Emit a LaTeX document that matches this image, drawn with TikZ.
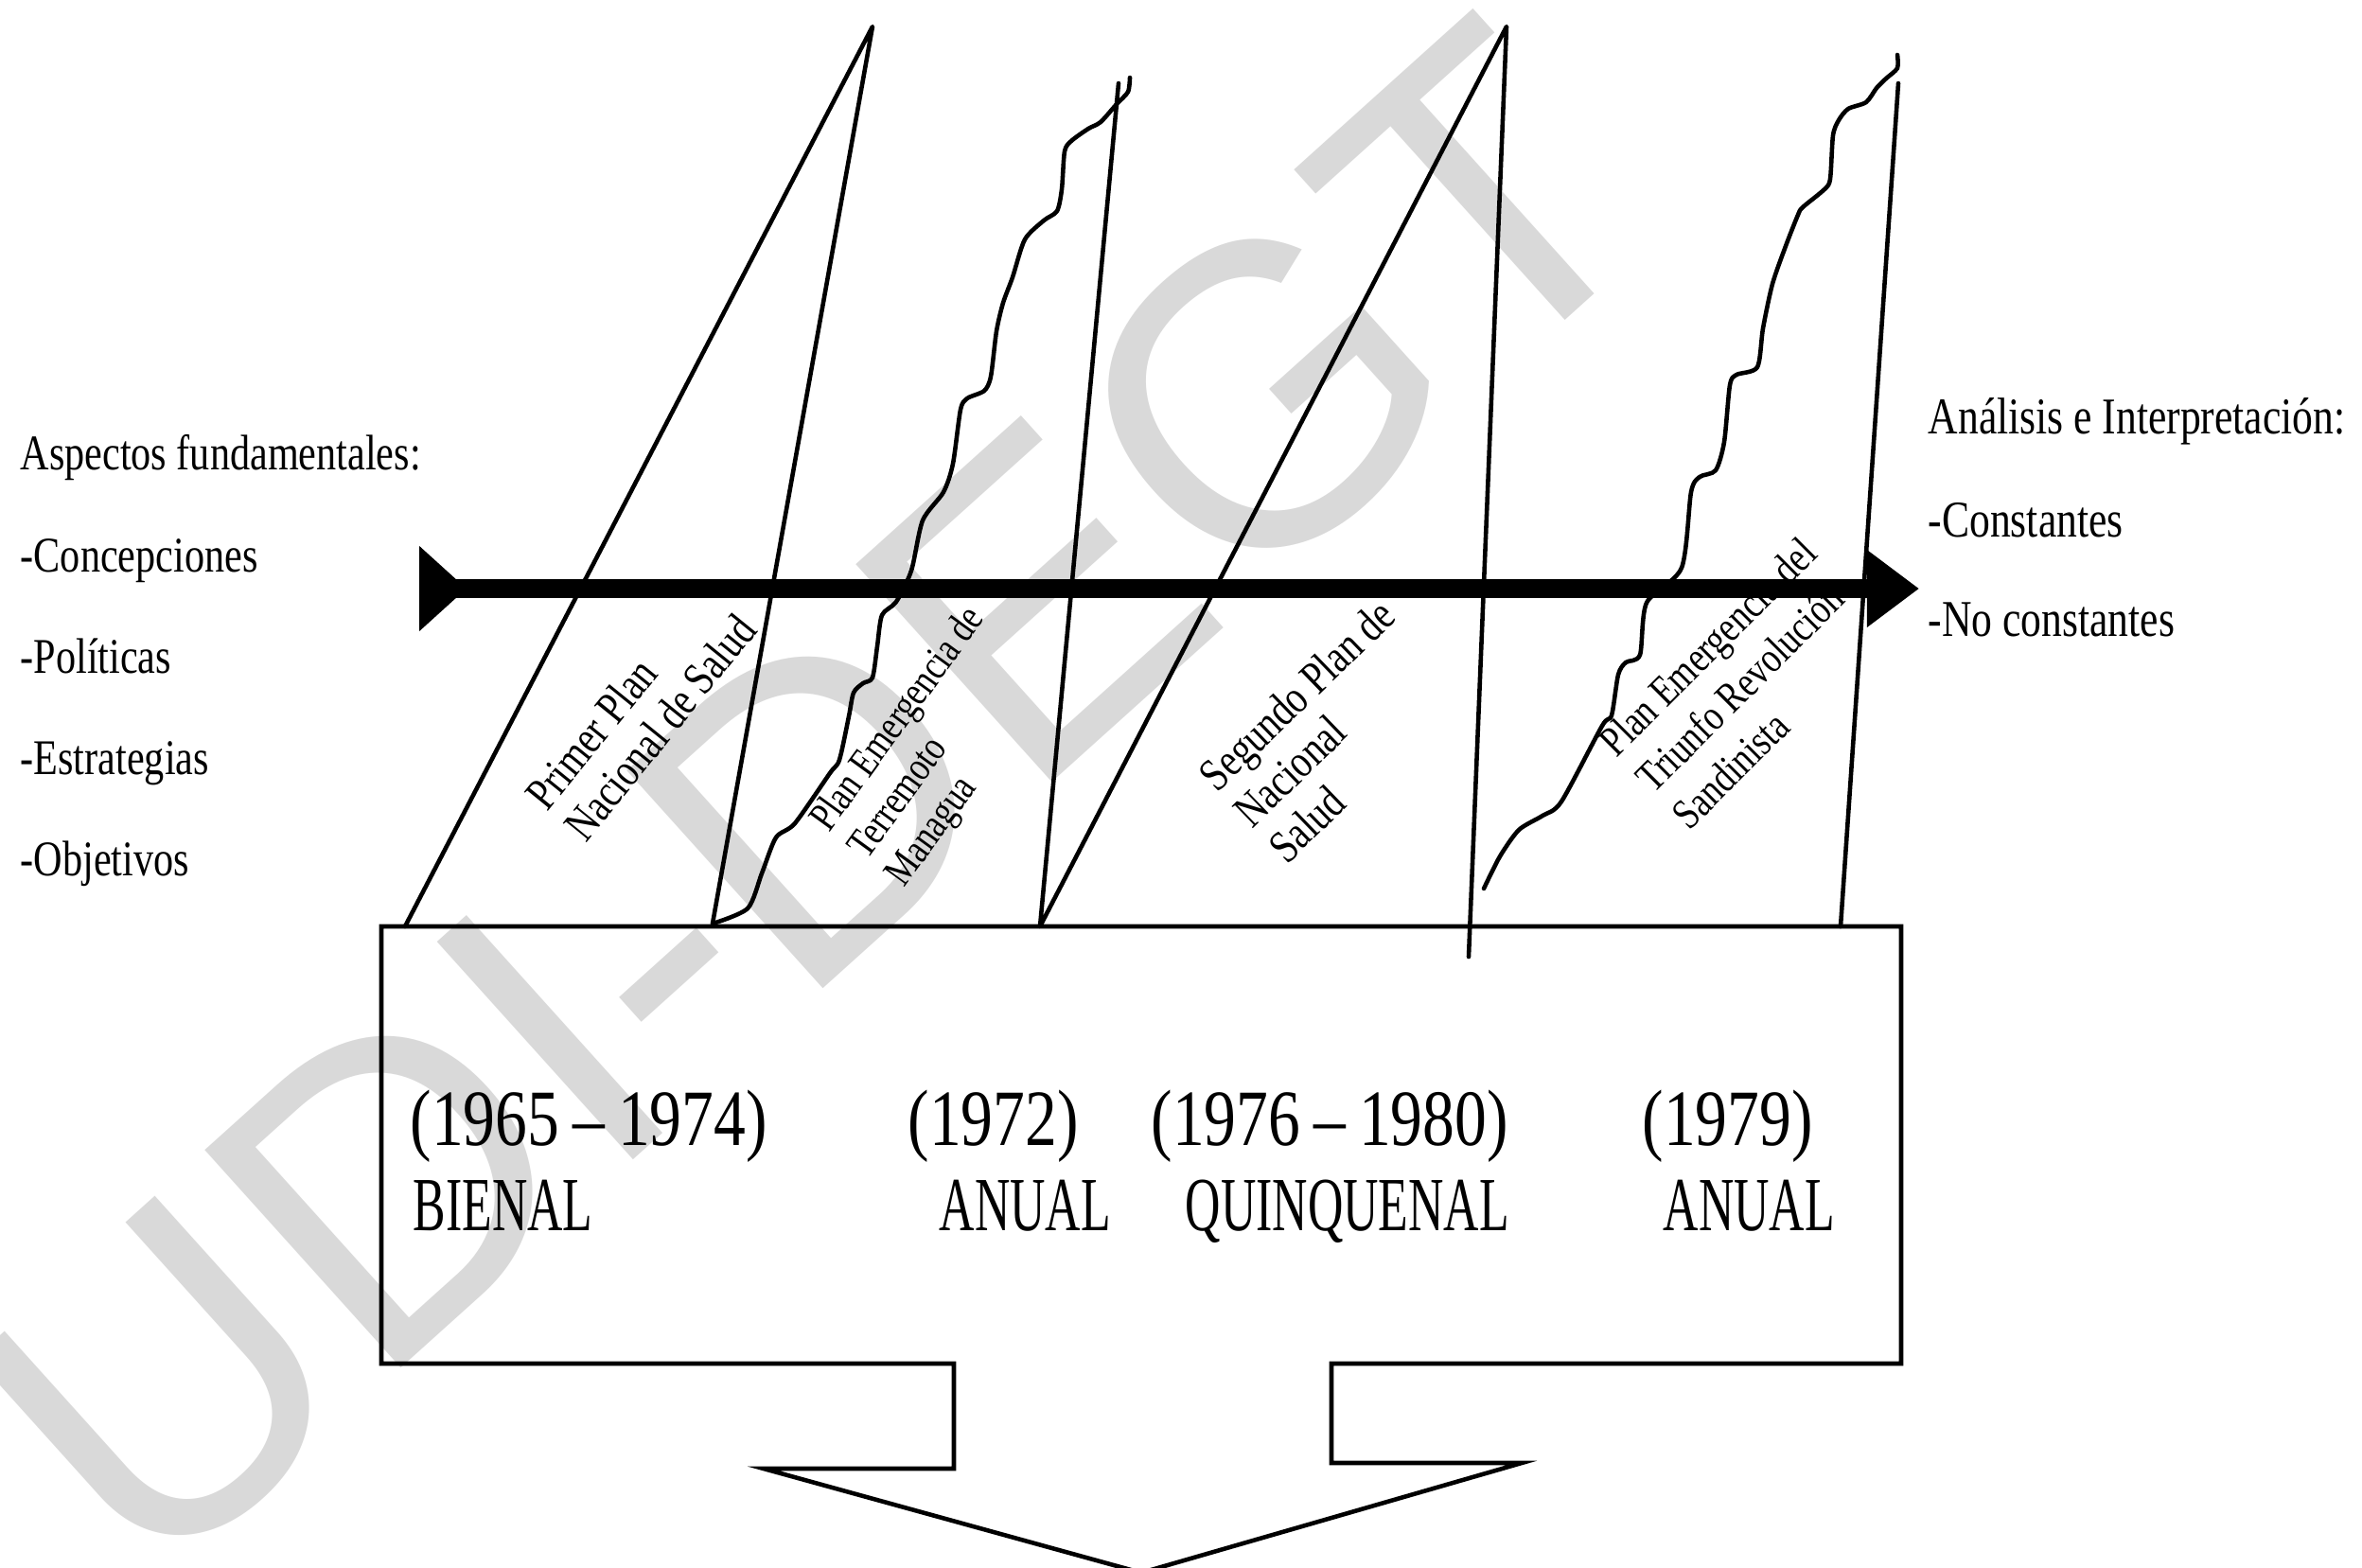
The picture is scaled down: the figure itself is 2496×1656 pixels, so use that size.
\documentclass[tikz,border=0pt]{standalone}
\usepackage{fontspec}
\setmainfont{Liberation Serif}[FakeStretch=0.8]
\newfontfamily\capfont{Liberation Serif}[FakeStretch=0.64]
\newfontfamily\markfont{Liberation Sans}
\usetikzlibrary{arrows.meta}

\begin{document}
\begin{tikzpicture}[
    x=0.01cm, y=-0.01cm,
    heading/.style={anchor=base west, inner sep=0pt, font=\fontsize{15pt}{18pt}\selectfont},
    plan/.style={align=left, inner sep=0pt, font=\fontsize{14pt}{15pt}\selectfont},
    years/.style={anchor=base west, inner sep=0pt, font=\fontsize{24pt}{28pt}\selectfont},
    period/.style={anchor=base west, inner sep=0pt, font=\capfont\fontsize{23pt}{26pt}\selectfont},
    edge/.style={line width=1.3pt, line join=round, line cap=round},
    wave/.style={edge, smooth, tension=0.45},
    axis/.style={line width=0.2cm, {Triangle[reversed, length=0.5cm, width=0.87cm]}-{Triangle[length=0.55cm, width=0.78cm]}}
]
\useasboundingbox (0,0) rectangle (2496,1656);

% watermark
\node[text=black!15, font=\markfont\fontsize{128pt}{128pt}\selectfont, rotate=42, inner sep=0pt] (mark) at (860,845) {UDI-DEGT};

% fin points
\coordinate (a1) at (922,28);
\coordinate (a3) at (1592,28);
\coordinate (b1) at (428,979);
\coordinate (b2) at (753,976);
\coordinate (b3) at (1099,979);
\coordinate (b4) at (1945,979);
\coordinate (c2) at (1182,88);
\coordinate (c3) at (1552,1011);
\coordinate (c4) at (2006,88);

\draw[edge] (b1) -- (a1) -- (b2);
\draw[edge] (c2) -- (b3) -- (a3) -- (c3);
\draw[edge] (c4) -- (b4);
\draw[wave] plot coordinates {(b2) (790,960) (805,923) (820,885) (840,870) (877,817) (887,803) (897,757) (902,732) (912,722) (922,716) (927,683) (932,650) (947,636) (963,603) (975,550) (997,520) (1007,490) (1015,433) (1022,421) (1040,413) (1047,398) (1053,350) (1060,320) (1070,293) (1083,253) (1103,233) (1117,223) (1122,200) (1125,160) (1132,149) (1150,136) (1163,129) (1180,110) (1192,97) (1194,82)};
\draw[wave] plot coordinates {(1568,939) (1585,905) (1605,877) (1630,862) (1650,847) (1693,767) (1703,756) (1710,713) (1718,700) (1733,692) (1740,637) (1777,600) (1787,520) (1796,504) (1813,497) (1822,467) (1828,407) (1835,396) (1857,388) (1863,347) (1873,300) (1887,260) (1900,227) (1905,219) (1928,200) (1934,189) (1937,143) (1943,127) (1953,115) (1972,108) (1983,93) (1993,83) (2005,72) (2005,58)};

% timeline
\coordinate (tail) at (443,622);
\coordinate (head) at (2028,622);
\draw[axis] (tail) -- (head);

% box with arrow
\draw[edge, line join=miter] (403,979) -- (2009,979) -- (2009,1441) -- (1407,1441) -- (1407,1546)
    -- (1608,1546) -- (1206,1662) -- (807,1552) -- (1008,1552) -- (1008,1441) -- (403,1441) -- cycle;

% plans
\node[plan, rotate=51] (p1) at (677,752) {Primer Plan\\Nacional de Salud};
\node[plan, rotate=54, font=\fontsize{12.5pt}{14pt}\selectfont] (p2) at (990,790) {Plan Emergencia de\\Terremoto\\Managua};
\node[plan, rotate=44] (p3) at (1407,772) {Segundo Plan de\\Nacional\\Salud};
\node[plan, rotate=45, font=\fontsize{13pt}{15.5pt}\selectfont] (p4) at (1843,722) {Plan Emergencia del\\Triunfo Revolución\\Sandinista};

% left and right lists
\node[heading] (asp) at (21,496) {Aspectos fundamentales:};
\node[heading] (con) at (21,604) {-Concepciones};
\node[heading] (pol) at (21,711) {-Políticas};
\node[heading] (est) at (21,818) {-Estrategias};
\node[heading] (obj) at (21,925) {-Objetivos};
\node[heading, font=\fontsize{15.5pt}{19pt}\selectfont] (ana) at (2037,458) {Análisis e Interpretación:};
\node[heading, font=\fontsize{15.5pt}{19pt}\selectfont] (cte) at (2037,567) {-Constantes};
\node[heading, font=\fontsize{15.5pt}{19pt}\selectfont] (nct) at (2037,672) {-No constantes};

% periods
\node[years] (y1) at (433,1210) {(1965\,–\,1974)};
\node[years] (y2) at (959,1210) {(1972)};
\node[years] (y3) at (1216,1210) {(1976\,–\,1980)};
\node[years] (y4) at (1735,1210) {(1979)};
\node[period] (n1) at (436,1300) {BIENAL};
\node[period] (n2) at (992,1300) {ANUAL};
\node[period] (n3) at (1252,1300) {QUINQUENAL};
\node[period] (n4) at (1757,1300) {ANUAL};

\end{tikzpicture}
\end{document}
